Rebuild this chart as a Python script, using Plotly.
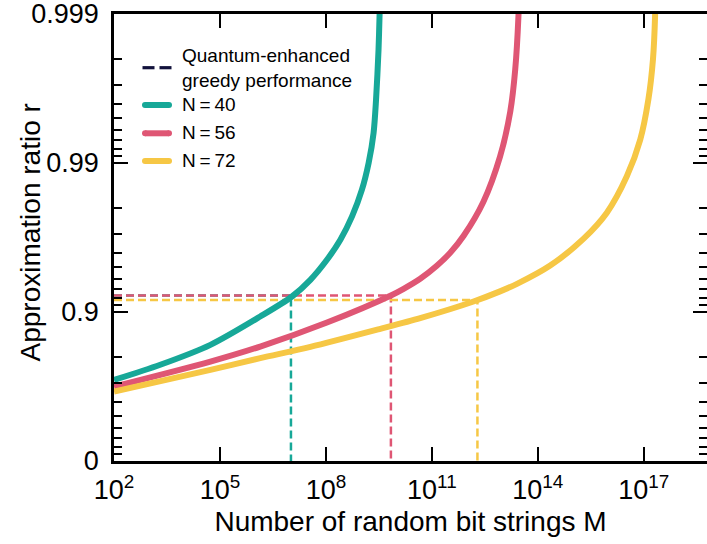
import numpy as np
import plotly.graph_objects as go

# Sampled curves: log10 of the number of random bit strings M, and ratio r
n40_log10_m = [2.0, 3.31, 4.73, 6.14, 7.04, 7.56, 8.03, 8.41, 8.74, 9.02, 9.21, 9.35, 9.42, 9.49, 9.52, 9.54]
n40_r = [0.714, 0.774, 0.8339, 0.8928, 0.9213, 0.9392, 0.9554, 0.96728, 0.97719, 0.9849,
         0.99002, 0.99373, 0.99625, 0.99827, 0.999, 0.9993]

n56_log10_m = [2.0, 4.73, 6.14, 8.03, 9.84, 10.2, 10.67, 11.14, 11.52, 11.9, 12.46, 12.93,
               13.22, 13.36, 13.45, 13.47]
n56_r = [0.6833, 0.7849, 0.8295, 0.8824, 0.9226, 0.93016, 0.9402, 0.95108, 0.95998, 0.96925,
         0.98183, 0.99094, 0.99549, 0.99764, 0.99895, 0.9993]

n72_log10_m = [2.0, 4.73, 6.14, 7.56, 9.54, 10.67, 12.18, 12.93, 13.41, 14.35, 15.29, 15.95,
               16.52, 16.9, 17.13, 17.26, 17.32, 17.33]
n72_r = [0.6579, 0.7555, 0.796, 0.8286, 0.8703, 0.8901, 0.915, 0.92729, 0.93525, 0.95123,
         0.96769, 0.97836, 0.98771, 0.99304, 0.99625, 0.99798, 0.99897, 0.9993]

# Quantum-enhanced greedy performance for each N: (log10 M, r)
greedy_log10_m = [7.01, 9.84, 12.29]
greedy_r = [0.9226, 0.9226, 0.917]

labels = ["N\u2009=\u200940", "N\u2009=\u200956", "N\u2009=\u200972"]
greedy_label = "Quantum-enhanced<br>greedy performance"
colors = ["#17a898", "#df5674", "#f6c745"]
greedy_color = "#12123c"

# Ratio axis ticks (positions on the -log10(1 - r) scale)
major_pos = [0, 1, 2, 3]
major_text = ["0", "0.9", "0.99", "0.999"]
minor_r = ([0.1, 0.2, 0.3, 0.4, 0.5, 0.6, 0.7, 0.8]
           + [0.91, 0.92, 0.93, 0.94, 0.95, 0.96, 0.97, 0.98]
           + [0.991, 0.992, 0.993, 0.994, 0.995, 0.996, 0.997, 0.998])

# M axis ticks
m_exponents = [2, 5, 8, 11, 14, 17]


def nines(r):
    """Map a ratio onto the -log10(1 - r) scale used by the vertical axis."""
    return -np.log10(1.0 - np.asarray(r, dtype=float))


FONT = "Liberation Sans, Arial, Helvetica, sans-serif"
W, H = 707, 544
ML, MR, MT, MB = 114, 0, 14, 83
PW, PH = W - ML - MR, H - MT - MB


def px(xp, yp):
    """Pixel position in the figure -> paper coordinates."""
    return (xp - ML) / PW, (H - MB - yp) / PH


fig = go.Figure()

# Dashed guides: from the left axis across to the curve, then down to the M axis
for lm, r, c in zip(greedy_log10_m, greedy_r, colors):
    m = 10.0 ** lm
    y = float(nines(r))
    fig.add_trace(go.Scatter(
        x=[10.0 ** 2, m, m], y=[y, y, 0.0], mode="lines",
        line=dict(color=c, width=2.5, dash="8px,4px"),
        showlegend=False, hoverinfo="skip"))

for lm, r, name, c in zip([n40_log10_m, n56_log10_m, n72_log10_m],
                          [n40_r, n56_r, n72_r], labels, colors):
    fig.add_trace(go.Scatter(
        x=10.0 ** np.asarray(lm), y=nines(r), mode="lines", name=name,
        line=dict(color=c, width=6, shape="spline", smoothing=0.8),
        showlegend=False))

# Carrier for the mirrored tick marks on the right edge
fig.add_trace(go.Scatter(x=[None], y=[None], yaxis="y2", showlegend=False, hoverinfo="skip"))

# Key in the upper-left corner
shapes, annotations = [], []
sym_x0, sym_x1, text_x = 142, 172, 180


def key_text(text, yp):
    xa, ya = px(text_x, yp)
    annotations.append(dict(text=text, x=xa, y=ya, xref="paper", yref="paper",
                            xanchor="left", yanchor="middle", showarrow=False,
                            align="left",
                            font=dict(size=19, family=FONT, color="black")))


# dashed key symbol: two dashes
for a, b in [(sym_x0 + 0.5, sym_x0 + 12.5), (sym_x0 + 17.5, sym_x1 - 0.5)]:
    xa, ya = px(a, 67.7)
    xb, _ = px(b, 67.7)
    shapes.append(dict(type="line", xref="paper", yref="paper", x0=xa, x1=xb, y0=ya, y1=ya,
                       line=dict(color=greedy_color, width=3.2)))
key_text(greedy_label, 67.5)

for name, c, ys, yt in zip(labels, colors, [105, 133.3, 161], [104.5, 132.8, 160.5]):
    xa, ya = px(sym_x0 + 3, ys)
    xb, _ = px(sym_x1 - 3, ys)
    shapes.append(dict(type="line", xref="paper", yref="paper", x0=xa, x1=xb, y0=ya, y1=ya,
                       line=dict(color=c, width=6)))
    for xe in (xa, xb):
        shapes.append(dict(type="circle", xref="paper", yref="paper",
                           xsizemode="pixel", ysizemode="pixel",
                           xanchor=xe, yanchor=ya, x0=-3, x1=3, y0=-3, y1=3,
                           fillcolor=c, line=dict(width=0)))
    key_text(name, yt)

# Vertical axis title
tx, ty = px(30, 232.5)
annotations.append(dict(text="Approximation ratio r", x=tx, y=ty, xref="paper", yref="paper",
                        xanchor="center", yanchor="middle", textangle=-90, showarrow=False,
                        font=dict(size=28, family=FONT, color="black")))

y_ticks = dict(
    range=[0, 3.0002],
    tickmode="array",
    tickvals=major_pos,
    ticks="inside", ticklen=14, tickwidth=2, tickcolor="black",
    minor=dict(tickmode="array", tickvals=list(nines(minor_r)),
               ticks="inside", ticklen=8, tickwidth=2, tickcolor="black"),
    showgrid=False, zeroline=False,
)

fig.update_layout(
    width=W, height=H,
    margin=dict(l=ML, r=MR, t=MT, b=MB),
    paper_bgcolor="white", plot_bgcolor="white",
    font=dict(family=FONT, color="black", size=27),
    shapes=shapes,
    annotations=annotations,
    showlegend=False,
    xaxis=dict(
        type="log", range=[2, 18.79],
        tickmode="array",
        tickvals=[10.0 ** e for e in m_exponents],
        ticktext=[f"10<sup>{e}</sup>" for e in m_exponents],
        ticks="inside", ticklen=14, tickwidth=2, tickcolor="black",
        showline=True, linewidth=2.5, linecolor="black", mirror="ticks",
        showgrid=False, zeroline=False,
        tickfont=dict(size=27),
        ticklabelstandoff=3,
        ticklabeloverflow="allow",
        title=dict(text="Number of random bit strings M", font=dict(size=28), standoff=8),
    ),
    yaxis=dict(
        **y_ticks,
        ticktext=major_text,
        showline=True, linewidth=2.5, linecolor="black",
        tickfont=dict(size=27),
        ticklabelstandoff=7,
        ticklabeloverflow="allow",
    ),
    yaxis2=dict(
        **y_ticks,
        overlaying="y", side="right", anchor="x",
        showline=False, showticklabels=False,
    ),
)

fig.write_html("out.html")
